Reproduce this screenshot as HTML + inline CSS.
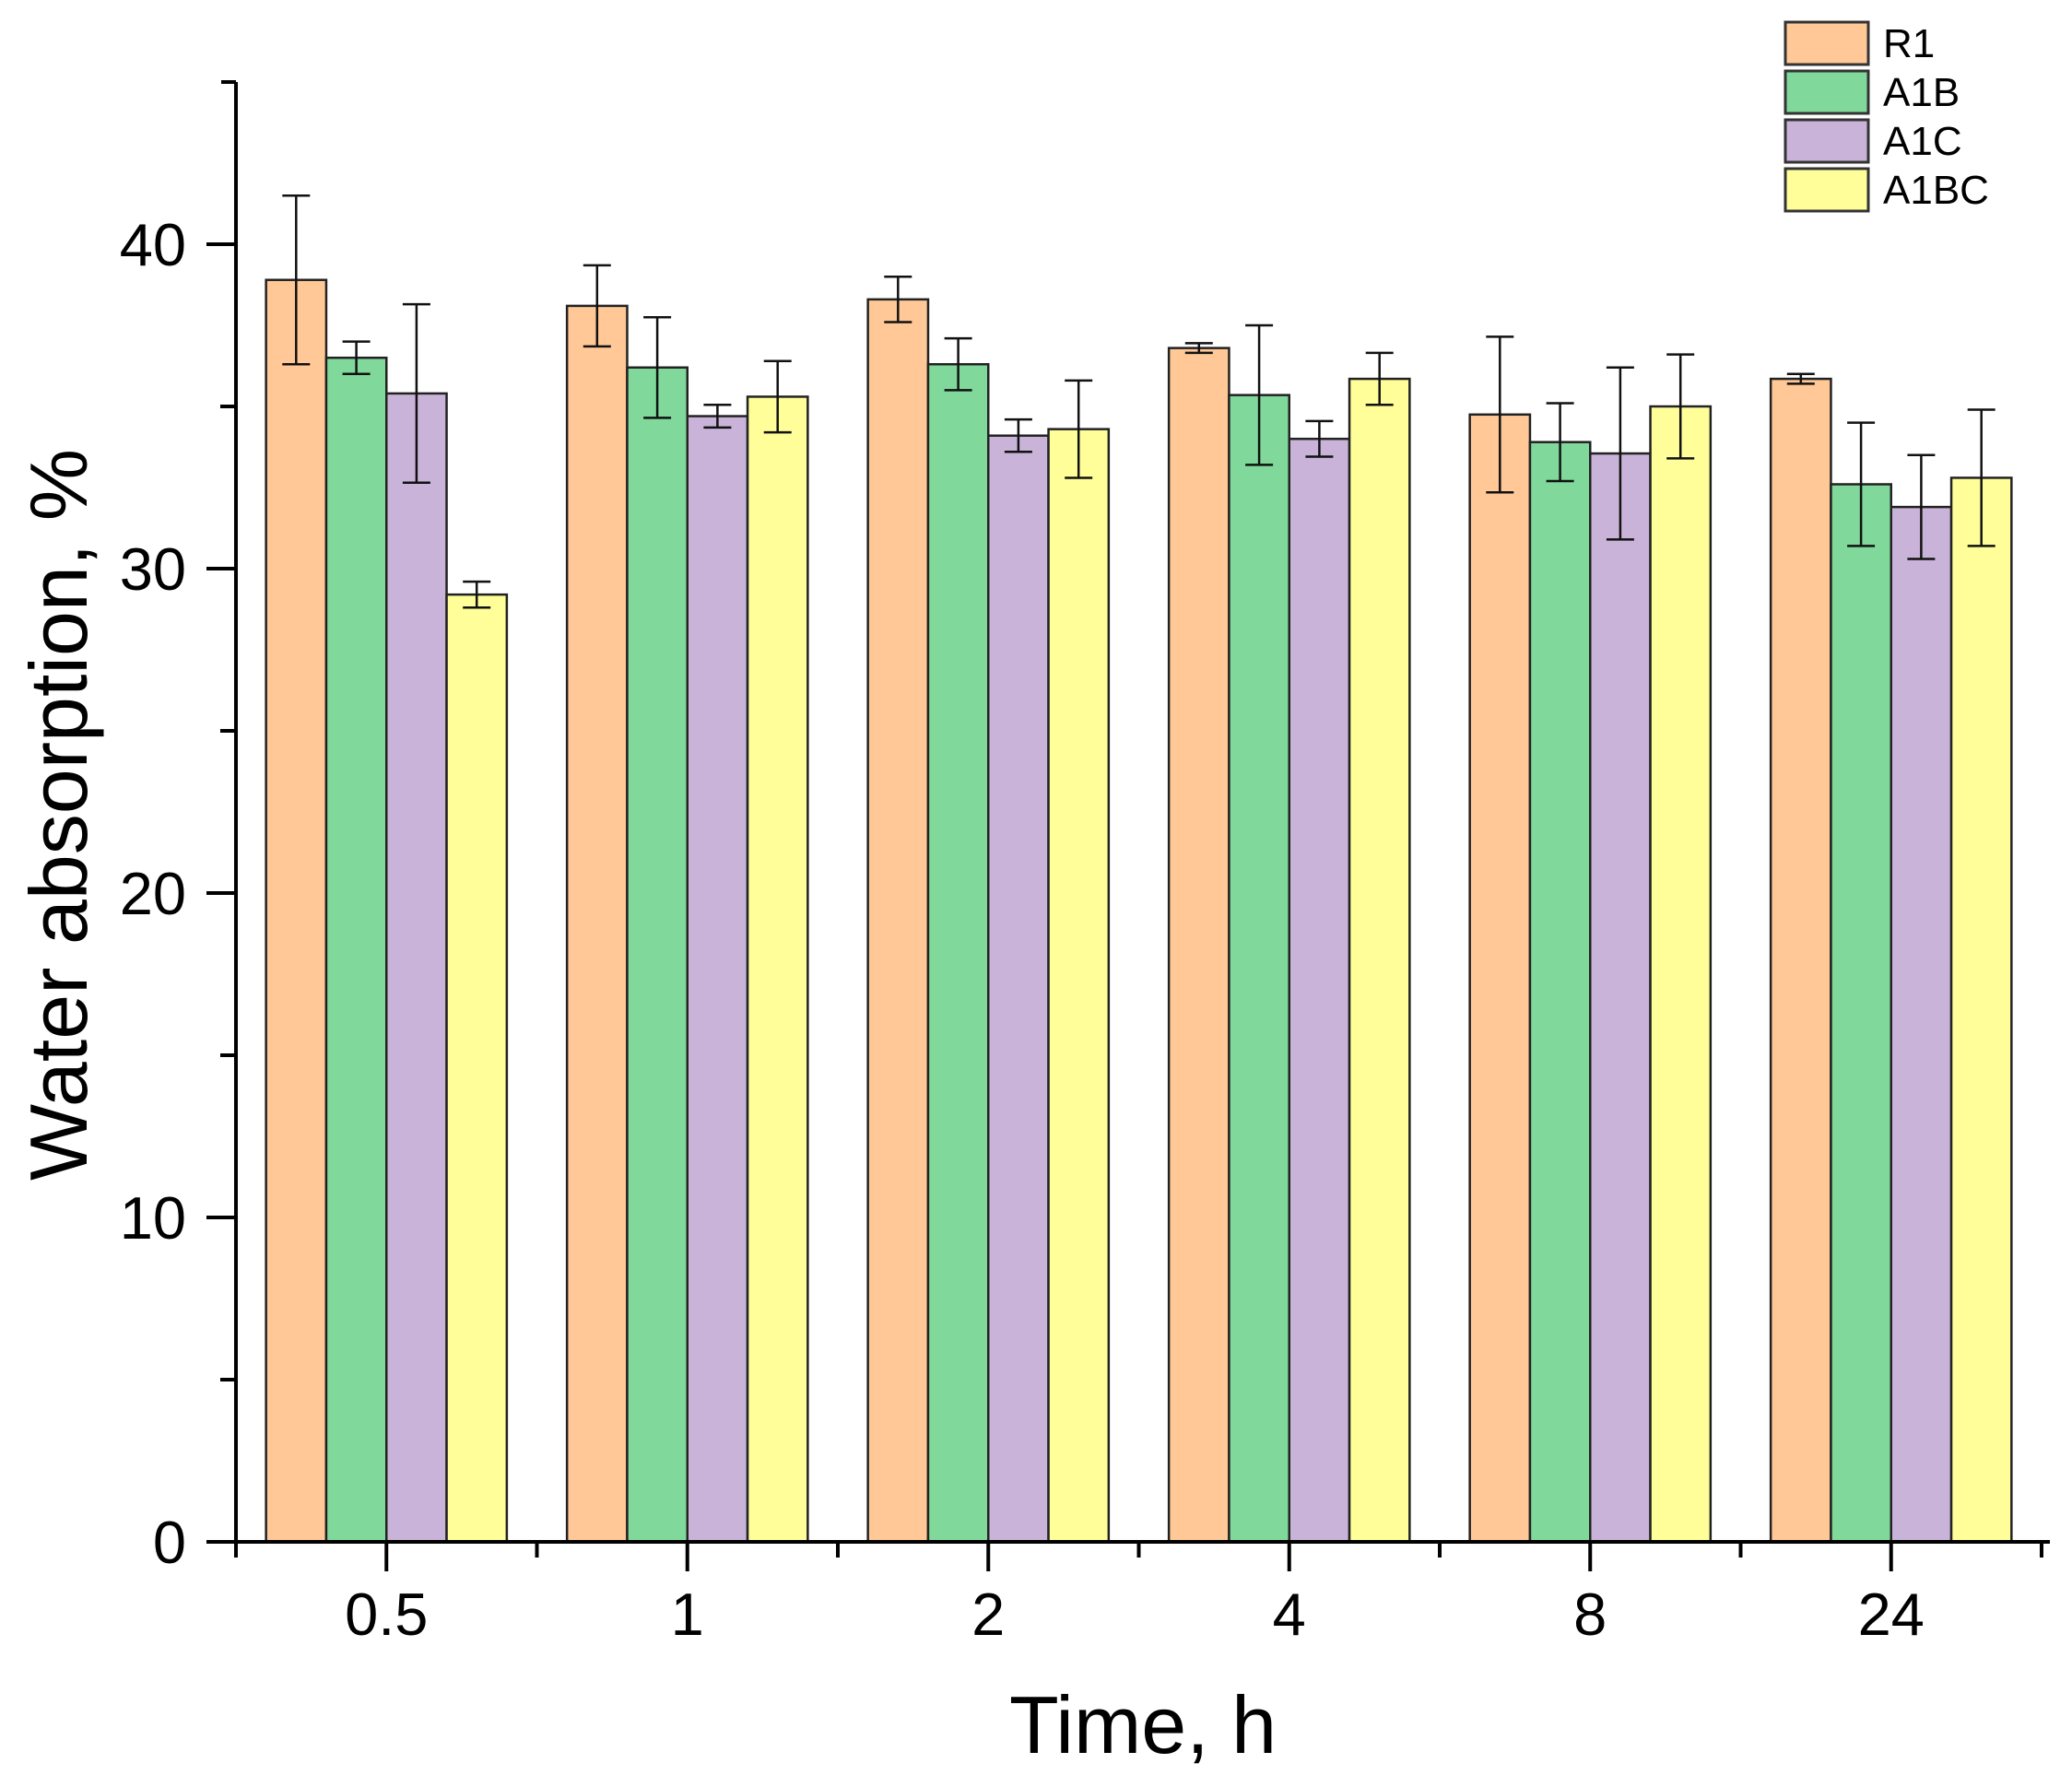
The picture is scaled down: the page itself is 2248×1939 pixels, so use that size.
<!DOCTYPE html>
<html><head><meta charset="utf-8"><style>
html,body{margin:0;padding:0;background:#fff;}
svg{display:block;font-family:"Liberation Sans",Arial,sans-serif;}
</style></head><body>
<svg id="chart" width="2248" height="1939" viewBox="0 0 2248 1939" xmlns="http://www.w3.org/2000/svg">
<g id="bars"></g>
<g id="axes"></g>
<text x="1240" y="1902" font-size="88" text-anchor="middle">Time, h</text>
<text transform="translate(94,884) rotate(-90)" font-size="88" text-anchor="middle">Water absorption, %</text>
<g id="legend"></g>
</svg>
<script>
const categories = ["0.5","1","2","4","8","24"];
const seriesNames = ["R1","A1B","A1C","A1BC"];
const seriesColors = ["#ffc896","#80d99b","#c9b3d8","#fffe99"];
const r1Values   = [38.9, 38.1, 38.3, 36.8, 34.75, 35.85];
const a1bValues  = [36.5, 36.2, 36.3, 35.35, 33.9, 32.6];
const a1cValues  = [35.4, 34.7, 34.1, 34.0, 33.55, 31.9];
const a1bcValues = [29.2, 35.3, 34.3, 35.85, 35.0, 32.8];
const r1Err   = [2.6, 1.25, 0.7, 0.15, 2.4, 0.15];
const a1bErr  = [0.5, 1.55, 0.8, 2.15, 1.2, 1.9];
const a1cErr  = [2.75, 0.35, 0.5, 0.55, 2.65, 1.6];
const a1bcErr = [0.4, 1.1, 1.5, 0.8, 1.6, 2.1];
const yMajorTicks = [0,10,20,30,40];
const yMinorTicks = [5,15,25,35];

const NS="http://www.w3.org/2000/svg";
const X0=256, GW=326.5, Y0=1673, PU=35.2, YTOP=89, XEND=2224;
const yScale=v=>Y0-v*PU;
const xCenter=i=>X0+(i+0.5)*GW;
const BW=GW*0.2;
function mk(tag,attrs,parent){const e=document.createElementNS(NS,tag);for(const k in attrs)e.setAttribute(k,attrs[k]);parent.appendChild(e);return e;}
const bars=document.getElementById('bars'),axes=document.getElementById('axes'),legend=document.getElementById('legend');
const vals=[r1Values,a1bValues,a1cValues,a1bcValues];
const errs=[r1Err,a1bErr,a1cErr,a1bcErr];
vals.forEach((arr,s)=>{
  arr.forEach((v,i)=>{
    const x=xCenter(i)-2*BW+s*BW;
    const r=mk('rect',{x:x,y:yScale(v),width:BW,height:Y0-yScale(v),fill:seriesColors[s],stroke:'#222','stroke-width':2.5},bars);
    
    
    const cx=x+BW/2,e=errs[s][i];
    const g=mk('g',{stroke:'#111','stroke-width':2.5},bars);
    
    
    mk('line',{x1:cx,x2:cx,y1:yScale(v+e),y2:yScale(v-e)},g);
    mk('line',{x1:cx-15,x2:cx+15,y1:yScale(v+e),y2:yScale(v+e)},g);
    mk('line',{x1:cx-15,x2:cx+15,y1:yScale(v-e),y2:yScale(v-e)},g);
  });
});
const ya=mk('line',{x1:X0,x2:X0,y1:YTOP,y2:Y0+2,stroke:'#000','stroke-width':4},axes);

const xa=mk('line',{x1:X0-32,x2:XEND,y1:Y0,y2:Y0,stroke:'#000','stroke-width':4},axes);

mk('line',{x1:X0-16,x2:X0,y1:YTOP,y2:YTOP,stroke:'#000','stroke-width':4},axes);
yMajorTicks.forEach(v=>{
  mk('line',{x1:X0-32,x2:X0,y1:yScale(v),y2:yScale(v),stroke:'#000','stroke-width':4},axes);
  const t=mk('text',{x:X0-54,y:yScale(v)+23,'font-size':65,'text-anchor':'end'},axes);
  t.textContent=v;
  
});
yMinorTicks.forEach(v=>{
  mk('line',{x1:X0-17,x2:X0,y1:yScale(v),y2:yScale(v),stroke:'#000','stroke-width':4},axes);
});
categories.forEach((c,i)=>{
  mk('line',{x1:xCenter(i),x2:xCenter(i),y1:Y0,y2:Y0+32,stroke:'#000','stroke-width':4},axes);
  mk('line',{x1:X0+i*GW,x2:X0+i*GW,y1:Y0,y2:Y0+17,stroke:'#000','stroke-width':4},axes);
  const t=mk('text',{x:xCenter(i),y:1774,'font-size':65,'text-anchor':'middle'},axes);
  t.textContent=c;
  
});
mk('line',{x1:X0+6*GW,x2:X0+6*GW,y1:Y0,y2:Y0+17,stroke:'#000','stroke-width':4},axes);
seriesNames.forEach((n,s)=>{
  const y=24+s*53;
  const g=mk('g',{},legend);
  
  
  mk('rect',{x:1937,y:y,width:90,height:46,fill:seriesColors[s],stroke:'#333','stroke-width':3},g);
  const t=mk('text',{x:2043,y:y+38,'font-size':44},g);
  t.textContent=n;
});
</script>
</body></html>
